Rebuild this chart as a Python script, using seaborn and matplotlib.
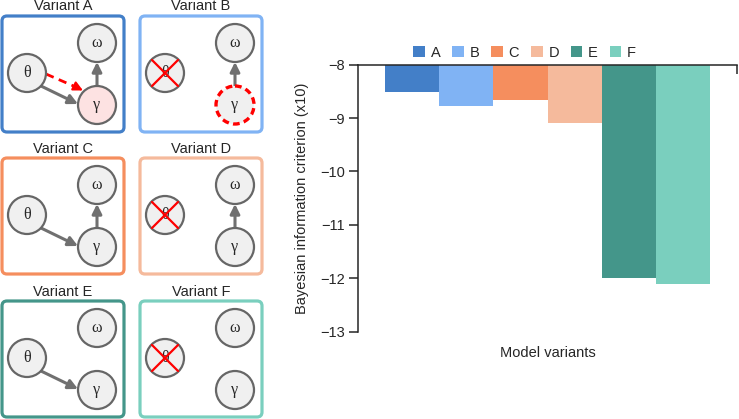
import matplotlib
matplotlib.use('Agg')
import matplotlib.pyplot as plt
import seaborn as sns
from matplotlib.patches import FancyBboxPatch, Circle, FancyArrowPatch

variants = ['A', 'B', 'C', 'D', 'E', 'F']
bic = [-8.52, -8.77, -8.67, -9.09, -12.00, -12.10]
colors = ['#437FC8', '#80B3F4', '#F58E5E', '#F5BA9C', '#44968A', '#7ACFBE']
yticks = [-8, -9, -10, -11, -12, -13]

# which links each model variant keeps
theta_on = [True, False, True, False, True, False]
gamma_omega = [True, True, True, True, False, False]

sns.set_style('ticks')
plt.rcParams['font.family'] = ['Liberation Sans', 'DejaVu Sans']

fig = plt.figure(figsize=(7.39, 4.19), dpi=100)

# ---- left: schematic diagrams, drawn in pixel coordinates
ax0 = fig.add_axes([0, 0, 1, 1])
ax0.set_xlim(0, 739)
ax0.set_ylim(419, 0)
ax0.axis('off')

node_fc = '#F0F0F0'
node_ec = '#666666'
arrow_c = '#707070'
box_w, box_h, r = 122, 116, 19
col_x = [2, 140]
row_y = [16, 158, 301]


def arrow(p0, p1, color=arrow_c, lw=2.2):
    a = FancyArrowPatch(p0, p1, arrowstyle='-|>', mutation_scale=14,
                        color=color, lw=lw, shrinkA=0, shrinkB=0)
    ax0.add_patch(a)


for i, v in enumerate(variants):
    x0 = col_x[i % 2]
    y0 = row_y[i // 2]
    ax0.add_patch(FancyBboxPatch((x0, y0), box_w, box_h,
                                 boxstyle='round,pad=0,rounding_size=5',
                                 ec=colors[i], fc='white', lw=2.3))
    ax0.text(x0 + box_w / 2, y0 - 9.5, f'Variant {v}', ha='center', va='center',
             fontsize=10.5)

    th = (x0 + 25, y0 + 57)
    om = (x0 + 95, y0 + 27)
    ga = (x0 + 95, y0 + 89)

    # links
    if gamma_omega[i]:
        arrow((ga[0], ga[1] - r), (om[0], om[1] + r))
    if theta_on[i]:
        arrow((x0 + 39, y0 + 70), (x0 + 76, y0 + 88))
    if v == 'A':
        ax0.plot([x0 + 44, x0 + 75], [y0 + 58, y0 + 71.5], color='red', lw=2.0,
                 ls=(0, (3, 2)), solid_capstyle='butt')
        arrow((x0 + 73, y0 + 70.5), (x0 + 81, y0 + 74.5), color='red', lw=1.5)

    # nodes
    ax0.add_patch(Circle(th, r, fc=node_fc, ec=node_ec, lw=1.6, zorder=3))
    ax0.add_patch(Circle(om, r, fc=node_fc, ec=node_ec, lw=1.6, zorder=3))
    if v == 'A':
        ax0.add_patch(Circle(ga, r, fc='#FDE2E2', ec=node_ec, lw=1.6, zorder=3))
    elif v == 'B':
        ax0.add_patch(Circle(ga, r, fc=node_fc, ec='red', lw=2.4,
                             ls=(0, (2, 1.3)), zorder=3))
    else:
        ax0.add_patch(Circle(ga, r, fc=node_fc, ec=node_ec, lw=1.6, zorder=3))
    for (cx, cy), sym in [(th, 'θ'), (om, 'ω'), (ga, 'γ')]:
        ax0.text(cx, cy, sym, ha='center', va='center', fontsize=11.5,
                 family=['Liberation Serif', 'DejaVu Serif'], zorder=4)
    if not theta_on[i]:
        d = 13
        ax0.plot([th[0] - d, th[0] + d], [th[1] - d, th[1] + d], color='red', lw=1.6, zorder=5)
        ax0.plot([th[0] - d, th[0] + d], [th[1] + d, th[1] - d], color='red', lw=1.6, zorder=5)

# ---- right: bar chart
ax = fig.add_axes([358 / 739, 87.3 / 419, 379 / 739, 267 / 419])
ax.patch.set_alpha(0)
sns.barplot(x=variants, y=bic, hue=variants, palette=colors, width=1,
            saturation=1, ax=ax, legend=True, linewidth=0)
ax.set_ylim(-13, -8)
ax.set_xlim(-1, 6)
ax.set_yticks(yticks)
ax.set_yticklabels([f'\u2212{abs(t)}' for t in yticks], fontsize=10.5)
ax.xaxis.tick_top()
ax.set_xticks([6])
ax.tick_params(axis='x', direction='in', length=6.5, width=1.1,
               top=True, bottom=False, labeltop=False, labelbottom=False)
ax.tick_params(axis='y', length=6.5, width=1.1, pad=3)
for s in ['bottom', 'right']:
    ax.spines[s].set_visible(False)
for s in ['top', 'left']:
    ax.spines[s].set_linewidth(1.1)
ax.xaxis.set_label_position('bottom')
ax.set_xlabel('Model variants', fontsize=10.5, labelpad=10)
ax.set_ylabel('Bayesian information criterion (x10)', fontsize=10.5, labelpad=8)

handles, labels = ax.get_legend_handles_labels()
ax.legend(handles, labels, ncol=6, frameon=False, loc='center',
          bbox_to_anchor=(0.44, 1.045), handlelength=0.8, handleheight=0.8,
          handletextpad=0.4, columnspacing=0.8, fontsize=10.5, borderaxespad=0)

fig.savefig('out.png', dpi=100)
